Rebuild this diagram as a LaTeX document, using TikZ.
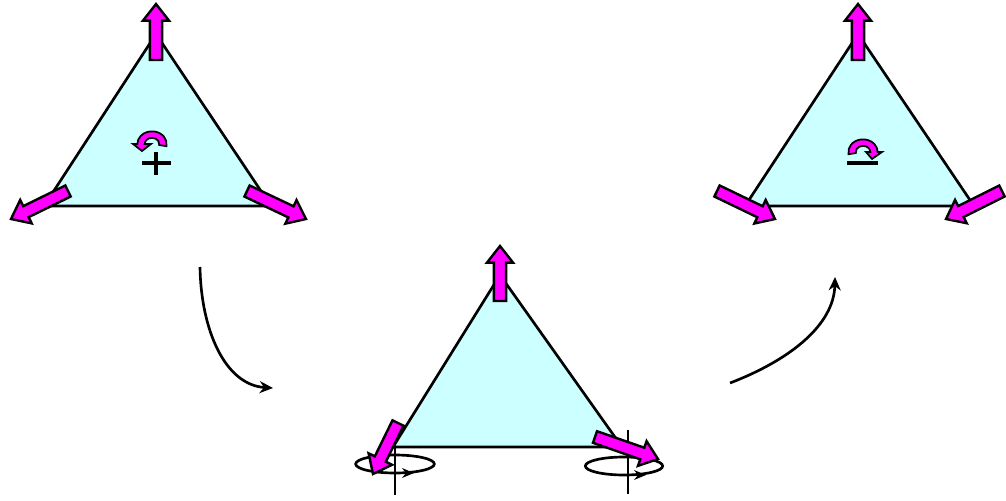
\documentclass[tikz,border=0pt]{standalone}
\usetikzlibrary{calc,arrows.meta}
\definecolor{tricyan}{HTML}{CCFFFF}
\definecolor{mag}{HTML}{FF00FF}
\tikzset{
  tri/.style={draw=black, fill=tricyan, line width=2pt, line join=miter},
  magarrow/.style={draw=black, fill=mag, line width=1.8pt, line join=miter},
  conn/.style={draw=black, line width=2pt, -{Stealth[length=10pt,width=9pt]}},
  axisline/.style={draw=black, line width=1.4pt},
  orbit/.style={draw=black, line width=2pt},
  sign/.style={draw=black, line width=2.3pt},
}
\newcommand{\blockarr}[2]{%
  \coordinate (bt) at (#1); \coordinate (bh) at (#2);
  \coordinate (bm) at ($(bh)!12.5pt!(bt)$);
  \filldraw[magarrow] ($(bt)!4.6pt!90:(bh)$) -- ($(bm)!4.6pt!90:(bh)$) -- ($(bm)!9.8pt!90:(bh)$) -- (bh)
     -- ($(bm)!9.8pt!-90:(bh)$) -- ($(bm)!4.6pt!-90:(bh)$) -- ($(bt)!4.6pt!-90:(bh)$) -- cycle;}
\begin{document}
\begin{tikzpicture}[x=0.75pt,y=-0.75pt]
\useasboundingbox (0,0) rectangle (1006,500);
% ---------- triangle 1 ----------
\coordinate (A1) at (156,34); \coordinate (L1) at (44,206); \coordinate (R1) at (271,206);
\filldraw[tri] (A1) -- (L1) -- (R1) -- cycle;
\coordinate (t1a) at (156,60); \coordinate (h1a) at (156,4);
\coordinate (t1b) at (68,191); \coordinate (h1b) at (11,219);
\coordinate (t1c) at (247,191); \coordinate (h1c) at (306,219);
\blockarr{t1a}{h1a}\blockarr{t1b}{h1b}\blockarr{t1c}{h1c}
\coordinate (C1) at (152,144);
\filldraw[magarrow, line width=1.3pt] ($(C1)+(-10:11pt and 9.5pt)$) arc[start angle=-10,end angle=180,x radius=11pt,y radius=9.5pt]
  -- (133,144) -- (142,151) -- (151,144) -- ($(C1)+(180:5.5pt and 4.6pt)$)
  arc[start angle=180,end angle=-10,x radius=5.5pt,y radius=4.6pt] -- cycle;
\coordinate (P1) at (156,163);
\draw[sign] ($(P1)+(-14,0)$) -- ($(P1)+(15,0)$);
\draw[sign] ($(P1)+(0,-11)$) -- ($(P1)+(0,12)$);
% ---------- triangle 3 ----------
\coordinate (A3) at (858,34); \coordinate (L3) at (745,206); \coordinate (R3) at (974,206);
\filldraw[tri] (A3) -- (L3) -- (R3) -- cycle;
\coordinate (t3a) at (858,60); \coordinate (h3a) at (858,4);
\coordinate (t3b) at (717,191); \coordinate (h3b) at (775,219);
\coordinate (t3c) at (1002,191); \coordinate (h3c) at (946,219);
\blockarr{t3a}{h3a}\blockarr{t3b}{h3b}\blockarr{t3c}{h3c}
\coordinate (C3) at (863,152);
\filldraw[magarrow, line width=1.3pt] ($(C3)+(190:11pt and 9.5pt)$) arc[start angle=190,end angle=0,x radius=11pt,y radius=9.5pt]
  -- (882,152) -- (872,159) -- (866,152) -- ($(C3)+(0:5.5pt and 4.6pt)$)
  arc[start angle=0,end angle=190,x radius=5.5pt,y radius=4.6pt] -- cycle;
\coordinate (M3) at (862,163);
\draw[sign] ($(M3)+(-15,0)$) -- ($(M3)+(16,0)$);
% ---------- triangle 2 ----------
\coordinate (A2) at (500,275); \coordinate (L2) at (393,447); \coordinate (R2) at (622,447);
\filldraw[tri] (A2) -- (L2) -- (R2) -- cycle;
% rotation ellipses and axes
\coordinate (E1) at (395,464); \coordinate (E2) at (624,466);
\draw[orbit] (E1) ellipse[x radius=29.5pt, y radius=6.75pt];
\draw[orbit] (E2) ellipse[x radius=29pt, y radius=6.75pt];
\draw[axisline] (395,447) -- (395,495);
\draw[axisline] (628,430) -- (628,494);
\fill (414,473) -- (402,468) -- (406,473) -- (402,478) -- cycle;
\fill (646,475) -- (634,470) -- (638,475) -- (634,480) -- cycle;
\coordinate (t2a) at (500,301); \coordinate (h2a) at (500,246);
\coordinate (t2b) at (398,423); \coordinate (h2b) at (373,474);
\coordinate (t2c) at (595,437); \coordinate (h2c) at (658,459);
\blockarr{t2a}{h2a}\blockarr{t2b}{h2b}\blockarr{t2c}{h2c}
% ---------- connectors ----------
\coordinate (s1) at (200,267); \coordinate (e1) at (273,388);
\draw[conn] (s1) .. controls (201,330) and (225,385) .. (e1);
\coordinate (s2) at (730,383); \coordinate (e2) at (835,277);
\draw[conn] (s2) .. controls (790,360) and (834,325) .. (e2);
\end{tikzpicture}
\end{document}
